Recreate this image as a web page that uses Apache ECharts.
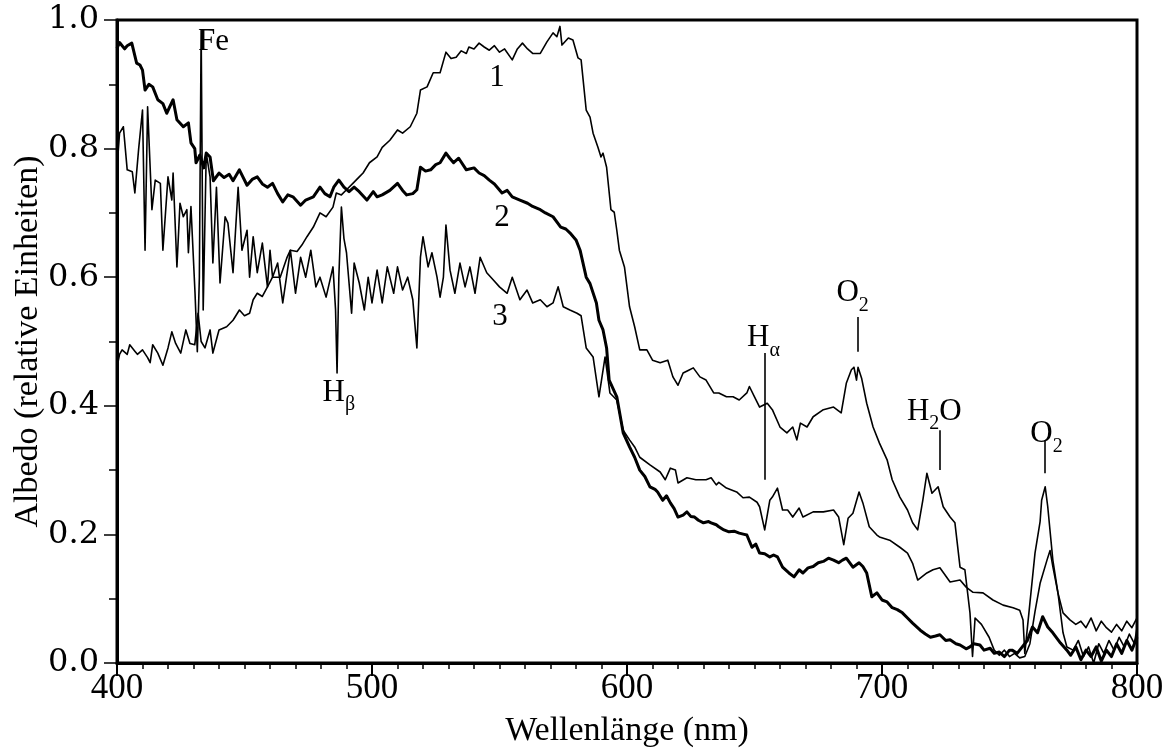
<!DOCTYPE html>
<html><head><meta charset="utf-8">
<script src="https://cdn.jsdelivr.net/npm/echarts@6/dist/echarts.min.js"></script>
<style>html,body{margin:0;padding:0;background:#fff}#c{width:1164px;height:751px}</style>
</head><body><div id="c"></div>
<script>
// [wavelength nm, albedo]
const curve1 = [[400,0.46],[401,0.48],[402,0.487],[404,0.48],[405,0.495],[407,0.485],[408,0.48],[410,0.487],[412,0.475],[413,0.467],[414,0.495],[416,0.482],[418,0.463],[420,0.49],[421.5,0.515],[423,0.497],[425,0.482],[427,0.518],[428.6,0.497],[430.5,0.495],[431.8,0.544],[433,0.5],[434.5,0.49],[436.5,0.518],[437.6,0.482],[440,0.518],[443,0.523],[445.5,0.533],[448,0.549],[450,0.54],[452,0.544],[453.4,0.565],[455,0.575],[457,0.57],[459,0.585],[461,0.6],[464,0.6],[466.6,0.63],[468,0.642],[470.6,0.64],[472.5,0.65],[474.5,0.663],[477,0.678],[479.6,0.7],[482,0.694],[484.7,0.709],[486,0.731],[488,0.728],[490,0.736],[492.5,0.746],[495,0.756],[496.5,0.762],[499,0.778],[502,0.787],[504,0.802],[507,0.813],[510,0.829],[512,0.824],[515,0.834],[517.6,0.855],[519,0.891],[521.6,0.896],[524,0.918],[526.7,0.918],[529,0.95],[531,0.94],[533,0.942],[535,0.952],[537,0.948],[538,0.958],[540,0.955],[542,0.964],[544,0.958],[546,0.953],[548,0.96],[550,0.95],[552,0.955],[555,0.938],[557,0.955],[559,0.964],[561,0.955],[563,0.948],[566,0.948],[568.6,0.966],[571,0.98],[572.5,0.974],[573.7,0.99],[574.5,0.961],[577,0.972],[578.8,0.969],[580.8,0.941],[582,0.938],[584,0.86],[585.5,0.849],[586.7,0.824],[588.6,0.802],[589.8,0.787],[590.6,0.793],[592,0.771],[593.7,0.705],[595,0.701],[596,0.673],[597,0.642],[599,0.616],[601,0.554],[603,0.523],[605,0.487],[607.8,0.487],[610,0.471],[613,0.467],[616,0.471],[618,0.445],[620,0.432],[622,0.451],[624,0.455],[626,0.459],[628.6,0.445],[631,0.44],[634,0.42],[636,0.42],[639,0.414],[641.6,0.414],[644,0.409],[647,0.42],[648,0.43],[650,0.414],[652,0.398],[655,0.404],[657,0.394],[660,0.367],[662.7,0.358],[665,0.367],[666.6,0.347],[668,0.373],[670.6,0.367],[673,0.383],[677,0.394],[681,0.398],[684,0.389],[686,0.435],[688,0.456],[689,0.46],[690,0.44],[690.6,0.46],[692,0.443],[694,0.404],[696.5,0.367],[699,0.342],[702,0.316],[704,0.285],[707,0.258],[710,0.238],[712,0.218],[714,0.207],[716,0.253],[717.6,0.295],[719.6,0.264],[722,0.274],[724,0.243],[726.7,0.227],[728.6,0.218],[730.6,0.149],[732.5,0.145],[734.5,0.078],[735.5,0.01],[736.5,0.07],[739,0.06],[742,0.04],[744,0.02],[746,0.012],[748,0.02],[750,0.01],[752,0.015],[754,0.008],[756,0.01],[758,0.03],[760,0.08],[762,0.124],[764.7,0.16],[765.9,0.175],[767,0.15],[769,0.109],[771,0.047],[772.5,0.025],[775,0.02],[777,0.035],[779,0.01],[781,0.025],[783,0.0],[785,0.03],[787,0.015],[789,0.035],[791,0.02],[793,0.04],[795,0.025],[797,0.045],[799,0.03],[800,0.055]];

const curve2 = [[400,0.956],[401,0.965],[403,0.955],[404,0.96],[405.8,0.964],[407.7,0.933],[409,0.93],[410,0.922],[411,0.891],[412.5,0.9],[414,0.896],[416,0.876],[418,0.87],[419.5,0.855],[422,0.876],[423.5,0.845],[426,0.834],[428,0.84],[429,0.809],[430.5,0.8],[431,0.778],[432.5,0.79],[434,0.77],[435,0.793],[436.5,0.787],[437.8,0.75],[440,0.762],[442,0.755],[444,0.76],[445.5,0.75],[448,0.767],[451,0.743],[453,0.752],[455,0.756],[457,0.745],[459,0.74],[461,0.746],[463,0.73],[465,0.717],[467,0.728],[469,0.725],[472,0.712],[474,0.72],[477,0.725],[479.6,0.74],[481.5,0.73],[483.5,0.725],[485,0.74],[487,0.751],[489,0.74],[491,0.733],[493,0.74],[495,0.733],[498,0.72],[500.5,0.733],[502,0.725],[504,0.728],[507,0.735],[510,0.746],[512,0.735],[513.6,0.728],[516,0.73],[517.6,0.736],[519,0.771],[521,0.765],[523,0.767],[525,0.775],[526.7,0.778],[529,0.793],[530.5,0.785],[532,0.778],[534,0.785],[537,0.767],[540,0.77],[542,0.762],[544,0.758],[546,0.751],[548,0.745],[551,0.731],[553,0.735],[555,0.725],[558,0.72],[561,0.715],[563,0.71],[566,0.705],[568,0.7],[571,0.694],[574,0.678],[576,0.675],[577.6,0.669],[580,0.658],[581.6,0.642],[584,0.6],[585.5,0.59],[588,0.56],[589,0.533],[590.6,0.518],[592,0.49],[593,0.44],[596,0.414],[598.5,0.358],[601,0.336],[603,0.32],[605,0.3],[607,0.29],[609,0.274],[611,0.27],[612,0.266],[614,0.253],[615.5,0.26],[617,0.249],[618.5,0.24],[620,0.227],[622,0.23],[623.5,0.235],[625,0.228],[626.5,0.227],[628,0.222],[630,0.218],[632,0.22],[633,0.218],[635,0.215],[636,0.212],[638,0.207],[640,0.204],[642,0.205],[644,0.202],[646,0.2],[647,0.199],[649,0.18],[650.5,0.185],[652,0.171],[654,0.17],[656,0.165],[657.5,0.168],[659,0.165],[661,0.149],[663.5,0.14],[665.5,0.134],[667.5,0.145],[669,0.14],[671,0.148],[673,0.15],[675,0.156],[677,0.158],[679,0.163],[681,0.16],[683,0.156],[684.5,0.16],[686,0.163],[688.6,0.149],[691,0.156],[692.5,0.15],[694,0.14],[696,0.103],[698,0.109],[700,0.098],[702,0.095],[704,0.086],[706,0.083],[708,0.078],[710,0.07],[712,0.062],[715,0.051],[717,0.045],[719,0.04],[721,0.042],[722.7,0.044],[725,0.035],[726.7,0.036],[729,0.03],[730.6,0.028],[733,0.022],[734.5,0.025],[736,0.03],[738.4,0.028],[740,0.02],[742.4,0.023],[744,0.015],[746,0.017],[748,0.01],[750,0.02],[751,0.02],[753,0.015],[755,0.025],[757,0.035],[759,0.056],[761,0.047],[763,0.072],[765,0.056],[767,0.047],[770,0.031],[772.5,0.02],[774,0.012],[776,0.025],[778,0.005],[780,0.02],[782,0.01],[784,0.025],[786,0.003],[788,0.02],[790,0.01],[792,0.03],[794,0.015],[796,0.035],[798,0.02],[800,0.04]];

const curve3 = [[400,0.77],[401,0.824],[402.5,0.834],[404,0.767],[406,0.764],[407,0.731],[408.5,0.8],[410,0.86],[411,0.642],[412,0.865],[413.7,0.705],[415,0.751],[417,0.746],[418,0.642],[420,0.756],[421.5,0.72],[422,0.762],[423.5,0.616],[424.7,0.715],[426,0.694],[427.4,0.705],[428,0.638],[429,0.71],[430.6,0.575],[431.5,0.484],[432.3,0.6],[433,0.984],[433.8,0.549],[435,0.793],[436.5,0.756],[437.6,0.622],[439,0.74],[440.4,0.591],[442.4,0.694],[443.5,0.684],[445.5,0.607],[447.5,0.74],[449,0.642],[451,0.673],[452,0.6],[453.4,0.663],[455,0.607],[457,0.653],[459,0.585],[460,0.642],[461,0.6],[463,0.622],[465,0.56],[468,0.642],[470,0.575],[472,0.631],[474,0.6],[476,0.642],[478,0.585],[479.6,0.6],[482,0.569],[484.7,0.616],[485.7,0.55],[486.3,0.451],[487,0.6],[488,0.709],[489,0.66],[490,0.638],[492,0.544],[493,0.622],[495,0.591],[497,0.549],[498.5,0.6],[500,0.56],[502,0.611],[504,0.56],[506,0.616],[508.5,0.575],[510,0.616],[512,0.58],[514,0.6],[516,0.565],[517.6,0.49],[519,0.631],[520,0.663],[522,0.616],[523.5,0.638],[525.5,0.6],[526.7,0.569],[528,0.6],[529,0.681],[530.6,0.611],[532.5,0.575],[534.5,0.622],[536.5,0.585],[538.4,0.616],[540.4,0.575],[542.4,0.631],[545,0.607],[547.5,0.596],[550,0.585],[553,0.575],[555,0.6],[558,0.565],[560.8,0.58],[563,0.56],[566,0.565],[568.6,0.554],[571,0.56],[573,0.585],[575,0.554],[577.6,0.549],[580.4,0.544],[582,0.54],[584,0.49],[586.7,0.476],[589,0.414],[591.4,0.476],[593.3,0.42],[596,0.409],[598.5,0.362],[601,0.347],[603,0.336],[605,0.32],[609,0.308],[613,0.297],[615,0.285],[617,0.303],[619,0.3],[620,0.28],[623.5,0.288],[627,0.285],[631,0.285],[633,0.288],[635,0.277],[636,0.281],[639,0.272],[643,0.266],[645.5,0.257],[648,0.258],[651,0.25],[652,0.243],[654,0.207],[656,0.253],[657,0.258],[659,0.272],[661,0.238],[663,0.238],[665,0.227],[667.5,0.241],[669,0.227],[673,0.235],[677,0.235],[681,0.238],[683,0.227],[685,0.184],[686.7,0.225],[688.6,0.233],[691,0.266],[692.5,0.249],[695,0.212],[698,0.199],[699,0.196],[703,0.191],[707,0.18],[710,0.171],[712,0.155],[714,0.129],[717.6,0.14],[720,0.145],[722.7,0.148],[726.7,0.126],[730.6,0.129],[733,0.118],[735.7,0.11],[739.6,0.109],[743.5,0.098],[747.5,0.09],[751.4,0.086],[754,0.082],[755.3,0.067],[756,0.015],[758,0.093],[760,0.171],[762,0.22],[762.6,0.253],[764,0.274],[765,0.243],[767,0.16],[769,0.109],[771,0.078],[773.7,0.067],[776,0.06],[778,0.065],[780,0.055],[782,0.07],[784,0.05],[786,0.065],[788,0.055],[790,0.048],[792,0.06],[794,0.05],[796,0.065],[798,0.055],[800,0.07]];

// annotation labels: [wavelength, albedo, text]
const labels = [
  [437.8, 0.966, 'Fe'],
  [549, 0.91, '1'],
  [551, 0.692, '2'],
  [550.2, 0.537, '3'],
  [487, 0.42, 'H|β'],
  [653.5, 0.505, 'H|α'],
  [688.5, 0.575, 'O|2'],
  [720.5, 0.39, 'H|2|O'],
  [764.5, 0.355, 'O|2']
];
// marker lines: [wavelength, y from, y to]
const markers = [
  [654, 0.482, 0.285],
  [690.6, 0.538, 0.484],
  [722.7, 0.362, 0.30],
  [764, 0.347, 0.295]
];
const xTicks = [400, 500, 600, 700, 800];
const yTicks = [0, 0.2, 0.4, 0.6, 0.8, 1.0];

const FONT = '"Liberation Serif", "DejaVu Serif", serif';
const WIDEFONT = '"DejaVu Serif", "Liberation Serif", serif';
const chart = echarts.init(document.getElementById('c'), null, {renderer: 'canvas'});

function fmtLabel(t) {
  const p = t.split('|');
  if (p.length === 1) return '{m|' + p[0] + '}';
  if (p.length === 2) return '{m|' + p[0] + '}{s|' + p[1] + '}';
  return '{m|' + p[0] + '}{s|' + p[1] + '}{m|' + p[2] + '}';
}

const lineSeries = (data, w) => ({
  type: 'line', data: data, showSymbol: false, symbol: 'none',
  lineStyle: {color: '#000', width: w, join: 'round'}, animation: false, z: 3
});

chart.setOption({
  backgroundColor: '#fff',
  animation: false,
  grid: {left: 117, right: 27, top: 20, bottom: 88, containLabel: false, outerBoundsMode: 'none',
         show: true, borderColor: '#000', borderWidth: 3, backgroundColor: 'transparent'},
  xAxis: {
    type: 'value', min: xTicks[0], max: xTicks[xTicks.length - 1], interval: 100,
    name: 'Wellenlänge (nm)', nameLocation: 'middle', nameGap: 51, nameMoveOverlap: false,
    nameTextStyle: {fontFamily: FONT, fontSize: 34, color: '#000'},
    axisLine: {show: true, lineStyle: {color: '#000', width: 3}},
    axisTick: {show: true, inside: false, length: 13, lineStyle: {color: '#000', width: 2}},
    minorTick: {show: true, splitNumber: 10, length: 6, lineStyle: {color: '#000', width: 1.5}},
    axisLabel: {fontFamily: FONT, fontSize: 35, color: '#000', margin: 8},
    splitLine: {show: false}
  },
  yAxis: {
    type: 'value', min: yTicks[0], max: yTicks[yTicks.length - 1], interval: 0.2,
    name: 'Albedo (relative Einheiten)', nameLocation: 'middle', nameGap: 72, nameMoveOverlap: false,
    nameTextStyle: {fontFamily: FONT, fontSize: 34, color: '#000'},
    axisLine: {show: true, lineStyle: {color: '#000', width: 3}},
    axisTick: {show: true, inside: false, length: 13, lineStyle: {color: '#000', width: 1.5}},
    minorTick: {show: true, splitNumber: 2, length: 8, lineStyle: {color: '#000', width: 1.5}},
    axisLabel: {fontFamily: WIDEFONT, fontSize: 32, color: '#000', margin: 18, formatter: v => v.toFixed(1)},
    splitLine: {show: false}
  },
  series: [
    lineSeries(curve1, 1.6),
    lineSeries(curve2, 3),
    lineSeries(curve3, 1.6),
    {
      type: 'scatter', symbolSize: 0, animation: false, z: 5,
      data: labels.map(l => ({value: [l[0], l[1]], name: l[2]})),
      label: {
        show: true, position: 'inside', color: '#000', textBorderWidth: 0, opacity: 1,
        formatter: p => fmtLabel(p.name),
        rich: {
          m: {fontFamily: FONT, fontSize: 31, color: '#000', textBorderWidth: 0, lineHeight: 32, verticalAlign: 'top'},
          s: {fontFamily: FONT, fontSize: 20, color: '#000', textBorderWidth: 0, lineHeight: 20, padding: [18, 0, 0, 0], verticalAlign: 'top'}
        }
      },
      markLine: {
        silent: true, symbol: ['none', 'none'], animation: false,
        label: {show: false},
        lineStyle: {color: '#000', width: 1.6, type: 'solid'},
        data: markers.map(m => [{coord: [m[0], m[1]]}, {coord: [m[0], m[2]]}])
      }
    }
  ]
});
</script>
</body></html>
